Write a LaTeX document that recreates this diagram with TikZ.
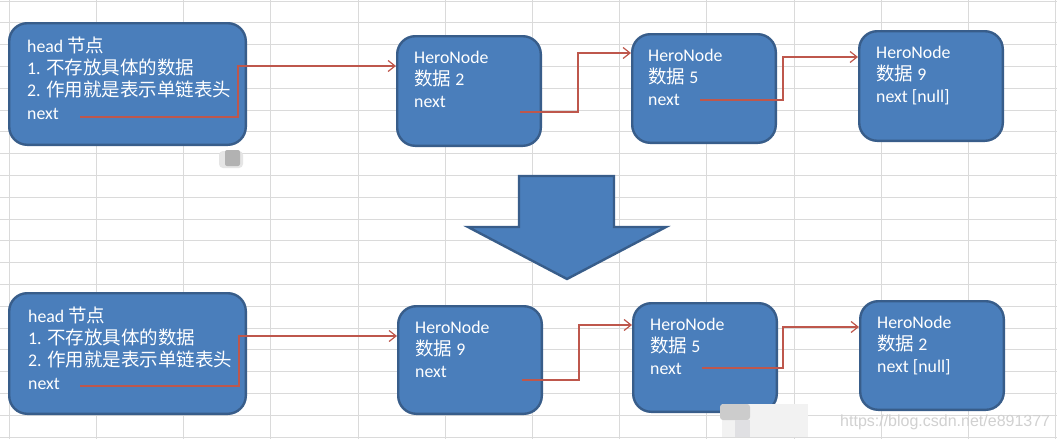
\documentclass[tikz,border=0pt]{standalone}
\usepackage{fontspec}
\setmainfont{Carlito}
\newfontfamily\cjkfont[Scale=1.04]{Noto Sans CJK SC}
\newfontfamily\wmfont{Liberation Sans}
\usetikzlibrary{arrows.meta,calc}
\newcommand\zhtxt[1]{{\cjkfont #1}}
\definecolor{boxfill}{HTML}{4A7EBB}
\definecolor{boxedge}{HTML}{385D8A}
\definecolor{linkred}{HTML}{BE574C}
\definecolor{gridgray}{HTML}{DADADA}
\begin{document}
\begin{tikzpicture}[x=1pt,y=-1pt,
  gridline/.style={draw=gridgray, line width=1pt},
  listbox/.style={draw=boxedge, fill=boxfill, line width=2.4pt, rounded corners=18pt, inner sep=0pt, rectangle},
  boxtext/.style={text=white, align=left, anchor=base west, inner sep=0pt, font=\fontsize{17.8}{22.4}\selectfont},
  link/.style={draw=linkred, line width=1.2pt, -{Straight Barb[length=7pt,width=11pt,line width=1.2pt]}},
]
\useasboundingbox (0,0) rectangle (1057,439);
\fill[white] (0,0) rectangle (1057,439);
% spreadsheet grid
\foreach \k in {0,...,12} \draw[gridline] ({9.3+87.2*\k},0) -- ({9.3+87.2*\k},439);
\foreach \k in {0,...,20} \draw[gridline] (0,{1+21.8*\k}) -- (1057,{1+21.8*\k});

% ---------- top row ----------
\node[listbox, minimum width=236.6pt, minimum height=121.6pt] (head1) at (127.5,84) {};
\node[listbox, minimum width=143.6pt, minimum height=109.6pt] (n1) at (469,91) {};
\node[listbox, minimum width=143.6pt, minimum height=108.6pt] (n2) at (704,88.5) {};
\node[listbox, minimum width=143.6pt, minimum height=109.6pt] (n3) at (931,86) {};

% (base anchor = baseline of the last line)
\node[boxtext] (th1) at (27,119.2) {head \zhtxt{节点}\\1. \zhtxt{不存放具体的数据}\\2. \zhtxt{作用就是表示单链表头}\\next};
\node[boxtext] (t1) at (414,107.8) {HeroNode\\\zhtxt{数据} 2\\next};
\node[boxtext] (t2) at (648,105.8) {HeroNode\\\zhtxt{数据} 5\\next};
\node[boxtext] (t3) at (876,102.8) {HeroNode\\\zhtxt{数据} 9\\next [null]};

\coordinate (h1s) at (80,117);  \coordinate (h1v) at (238,66);
\coordinate (n1s) at (520,112); \coordinate (n1v) at (578,53);
\coordinate (n2s) at (700,100); \coordinate (n2v) at (783,57);
\draw[link] (h1s) -| (h1v) -- (n1.west |- h1v);
\draw[link] (n1s) -| (n1v) -- (n2.west |- n1v);
\draw[link] (n2s) -| (n2v) -- (n3.west |- n2v);

% ---------- big arrow ----------
\draw[draw=boxedge, fill=boxfill, line width=2.4pt, line join=miter]
  (519,176) -- (614,176) -- (614,227) -- (666,227) -- (567,279) -- (468,227) -- (519,227) -- cycle;

% ---------- bottom row ----------
\node[listbox, minimum width=236.6pt, minimum height=120.6pt] (head2) at (127.5,353.5) {};
\node[listbox, minimum width=143.6pt, minimum height=107.6pt] (m1) at (470,360) {};
\node[listbox, minimum width=143.6pt, minimum height=108.6pt] (m2) at (705,357.5) {};
\node[listbox, minimum width=143.6pt, minimum height=108.6pt] (m3) at (932,355.5) {};

\node[boxtext] (th2) at (28,389.2) {head \zhtxt{节点}\\1. \zhtxt{不存放具体的数据}\\2. \zhtxt{作用就是表示单链表头}\\next};
\node[boxtext] (u1) at (415,377.8) {HeroNode\\\zhtxt{数据} 9\\next};
\node[boxtext] (u2) at (650,374.8) {HeroNode\\\zhtxt{数据} 5\\next};
\node[boxtext] (u3) at (877,372.8) {HeroNode\\\zhtxt{数据} 2\\next [null]};

\coordinate (h2s) at (80,386);  \coordinate (h2v) at (239,336);
\coordinate (m1s) at (522,380); \coordinate (m1v) at (579,325);
\coordinate (m2s) at (702,368); \coordinate (m2v) at (783,327);
\draw[link] (h2s) -| (h2v) -- (m1.west |- h2v);
\draw[link] (m1s) -| (m1v) -- (m2.west |- m1v);
\draw[link] (m2s) -| (m2v) -- (m3.west |- m2v);

% ---------- blurred marks and watermark ----------
\fill[gray!20, rounded corners=4pt] (219,151) rectangle (243,168);
\fill[gray!60, rounded corners=2pt] (225,150) rectangle (240,166);
\fill[black!5] (722,404) rectangle (808,437);
\fill[black!20, rounded corners=3pt] (720,404) rectangle (750,420);
\fill[blue!8!black!12] (735,420) rectangle (750,437);
\node[anchor=base west, inner sep=0pt, text=black!18, font=\wmfont\fontsize{16}{18}\selectfont] (wm) at (840,426) {https://blog.csdn.net/e891377};
\end{tikzpicture}
\end{document}
